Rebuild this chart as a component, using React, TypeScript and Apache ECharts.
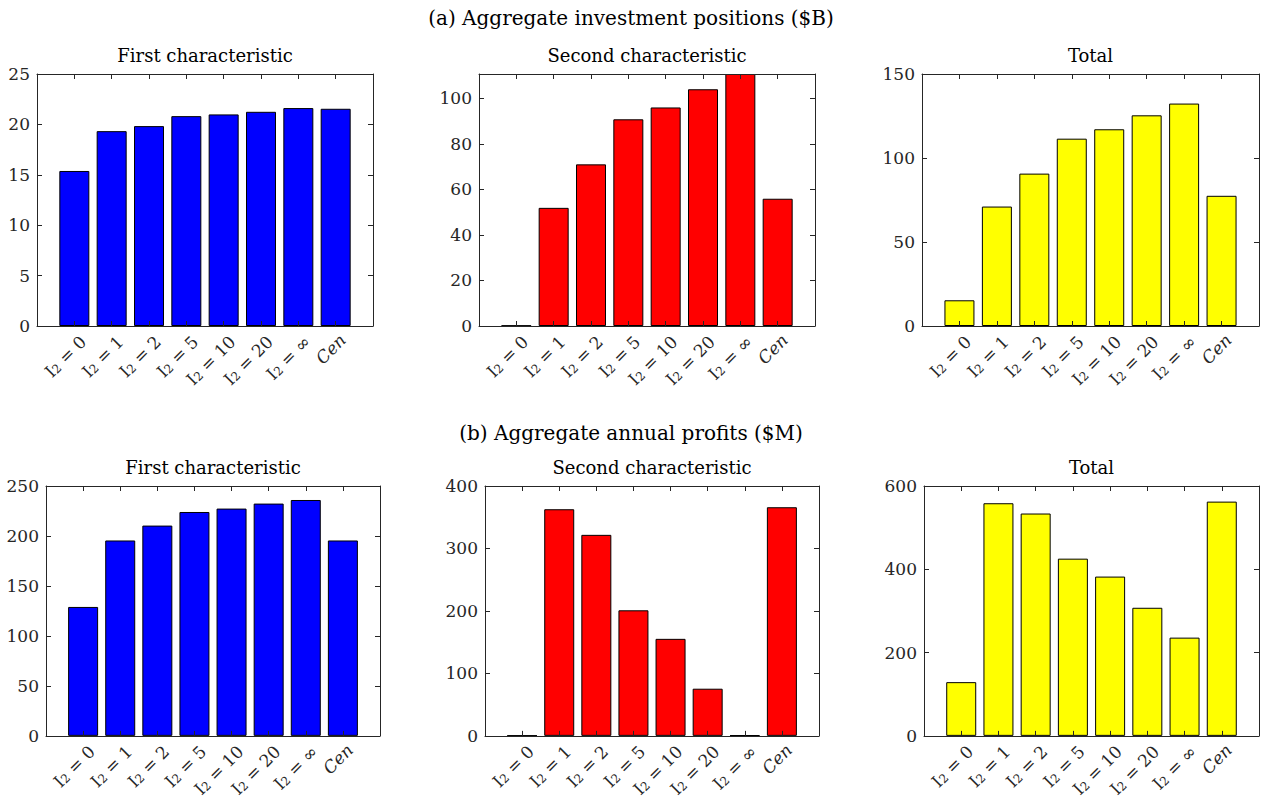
import React, { useEffect, useRef } from "react";
import * as echarts from "echarts";

const categories = ["I₂ = 0", "I₂ = 1", "I₂ = 2", "I₂ = 5", "I₂ = 10", "I₂ = 20", "I₂ = ∞", "Cen"];

const investFirst = [15.38, 19.33, 19.83, 20.82, 20.99, 21.25, 21.62, 21.55];
const investSecond = [0.2, 51.9, 71.0, 90.8, 96.0, 104.0, 110.7, 55.9];
const investTotal = [15.3, 71.1, 90.7, 111.5, 117.1, 125.4, 132.4, 77.5];

const profitFirst = [129, 195.5, 210.4, 224, 227.4, 232.4, 236, 195.5];
const profitSecond = [0.5, 362.8, 321.8, 201, 155.3, 75.5, 1, 366];
const profitTotal = [129, 558.6, 533.9, 425.5, 382.5, 307.6, 235.9, 562.5];

const rowTitles = ["(a) Aggregate investment positions ($B)", "(b) Aggregate annual profits ($M)"];
const panelTitles = ["First characteristic", "Second characteristic", "Total"];

const panelColors = ["#0000ff", "#ff0000", "#ffff00"];

const yMax = [25, 110.7, 150, 250, 400, 600];
const yInterval = [5, 20, 50, 50, 100, 200];

const FONT = "'DejaVu Serif', 'Liberation Serif', serif";
const AXIS = "#262626";
const LABEL_SIZE = 17;

function richLabel(c: string) {
  if (c === "Cen") return "{it|Cen}";
  const rest = c.replace("I₂", "");
  return "{b|I}{s|2}{b|" + rest + "}";
}

export default function App() {
  const ref = useRef<HTMLDivElement>(null);
  useEffect(() => {
    if (!ref.current) return;
    const chart = echarts.init(ref.current, null, { renderer: "svg" });
    const series = [investFirst, investSecond, investTotal, profitFirst, profitSecond, profitTotal];
    const grids = [
      { left: 37, top: 74, width: 336, height: 252 },
      { left: 479, top: 74, width: 336, height: 252 },
      { left: 922, top: 74, width: 337, height: 252 },
      { left: 46, top: 486, width: 334, height: 251 },
      { left: 485, top: 486, width: 334, height: 251 },
      { left: 924, top: 486, width: 335, height: 251 },
    ];
    const xAxes: any[] = [];
    const yAxes: any[] = [];
    const seriesOpts: any[] = [];
    const graphics: any[] = [];
    grids.forEach((g, i) => {
      const base = {
        type: "value",
        gridIndex: i,
        min: 0,
        max: 9,
        interval: 1,
        z: 5,
        splitLine: { show: false },
        axisLine: { show: true, onZero: false, lineStyle: { color: AXIS, width: 1 } },
        axisTick: {
          show: true,
          inside: true,
          length: 5,
          lineStyle: { color: AXIS },
          customValues: [1, 2, 3, 4, 5, 6, 7, 8],
        },
      };
      xAxes.push({
        ...base,
        position: "bottom",
        axisLabel: {
          show: true,
          rotate: 45,
          margin: 4,
          padding: [20, 0, 0, 0],
          fontFamily: FONT,
          fontSize: LABEL_SIZE,
          color: AXIS,
          customValues: [1, 2, 3, 4, 5, 6, 7, 8],
          formatter: (v: number) => {
            const idx = Math.round(v) - 1;
            if (idx < 0 || idx >= categories.length) return "";
            return richLabel(categories[idx]);
          },
          rich: {
            it: { fontStyle: "italic", fontFamily: FONT, fontSize: LABEL_SIZE, color: AXIS },
            b: { fontFamily: FONT, fontSize: LABEL_SIZE, color: AXIS, verticalAlign: "bottom", lineHeight: 22 },
            s: { fontFamily: FONT, fontSize: 12, color: AXIS, verticalAlign: "bottom", lineHeight: 16 },
          },
        },
      });
      xAxes.push({ ...base, position: "top", axisLabel: { show: false } });
      const ybase = {
        type: "value",
        gridIndex: i,
        min: 0,
        max: yMax[i],
        interval: yInterval[i],
        z: 5,
        splitLine: { show: false },
        axisLine: { show: true, onZero: false, lineStyle: { color: AXIS, width: 1 } },
        axisTick: { show: true, inside: true, length: 5, lineStyle: { color: AXIS } },
      };
      yAxes.push({
        ...ybase,
        position: "left",
        axisLabel: {
          show: true,
          margin: 7,
          fontFamily: FONT,
          fontSize: LABEL_SIZE,
          color: AXIS,
          showMaxLabel: yMax[i] % yInterval[i] === 0,
        },
      });
      yAxes.push({ ...ybase, position: "right", axisLabel: { show: false } });
      seriesOpts.push({
        type: "bar",
        xAxisIndex: i * 2,
        yAxisIndex: i * 2,
        barWidth: Math.round((g.width / 9) * 0.8),
        data: series[i].map((v, k) => [k + 1, v]),
        itemStyle: { color: panelColors[i % 3], borderColor: "#000", borderWidth: 1 },
        silent: true,
      });
      graphics.push({
        type: "text",
        x: g.left + g.width / 2,
        y: g.top - 19,
        style: {
          text: panelTitles[i % 3],
          fontFamily: FONT,
          fontSize: 18,
          fill: "#000",
          align: "center",
          verticalAlign: "middle",
        },
      });
    });
    graphics.push({
      type: "text",
      x: 631,
      y: 18,
      style: { text: rowTitles[0], fontFamily: FONT, fontSize: 20, fill: "#000", align: "center", verticalAlign: "middle" },
    });
    graphics.push({
      type: "text",
      x: 631,
      y: 433,
      style: { text: rowTitles[1], fontFamily: FONT, fontSize: 20, fill: "#000", align: "center", verticalAlign: "middle" },
    });
    chart.setOption({
      animation: false,
      backgroundColor: "#fff",
      grid: grids.map((g) => ({ ...g, containLabel: false, show: false })),
      xAxis: xAxes,
      yAxis: yAxes,
      series: seriesOpts,
      graphic: graphics,
    });
    return () => chart.dispose();
  }, []);
  return <div ref={ref} style={{ position: "fixed", left: 0, top: 0, width: 1262, height: 800 }} />;
}
